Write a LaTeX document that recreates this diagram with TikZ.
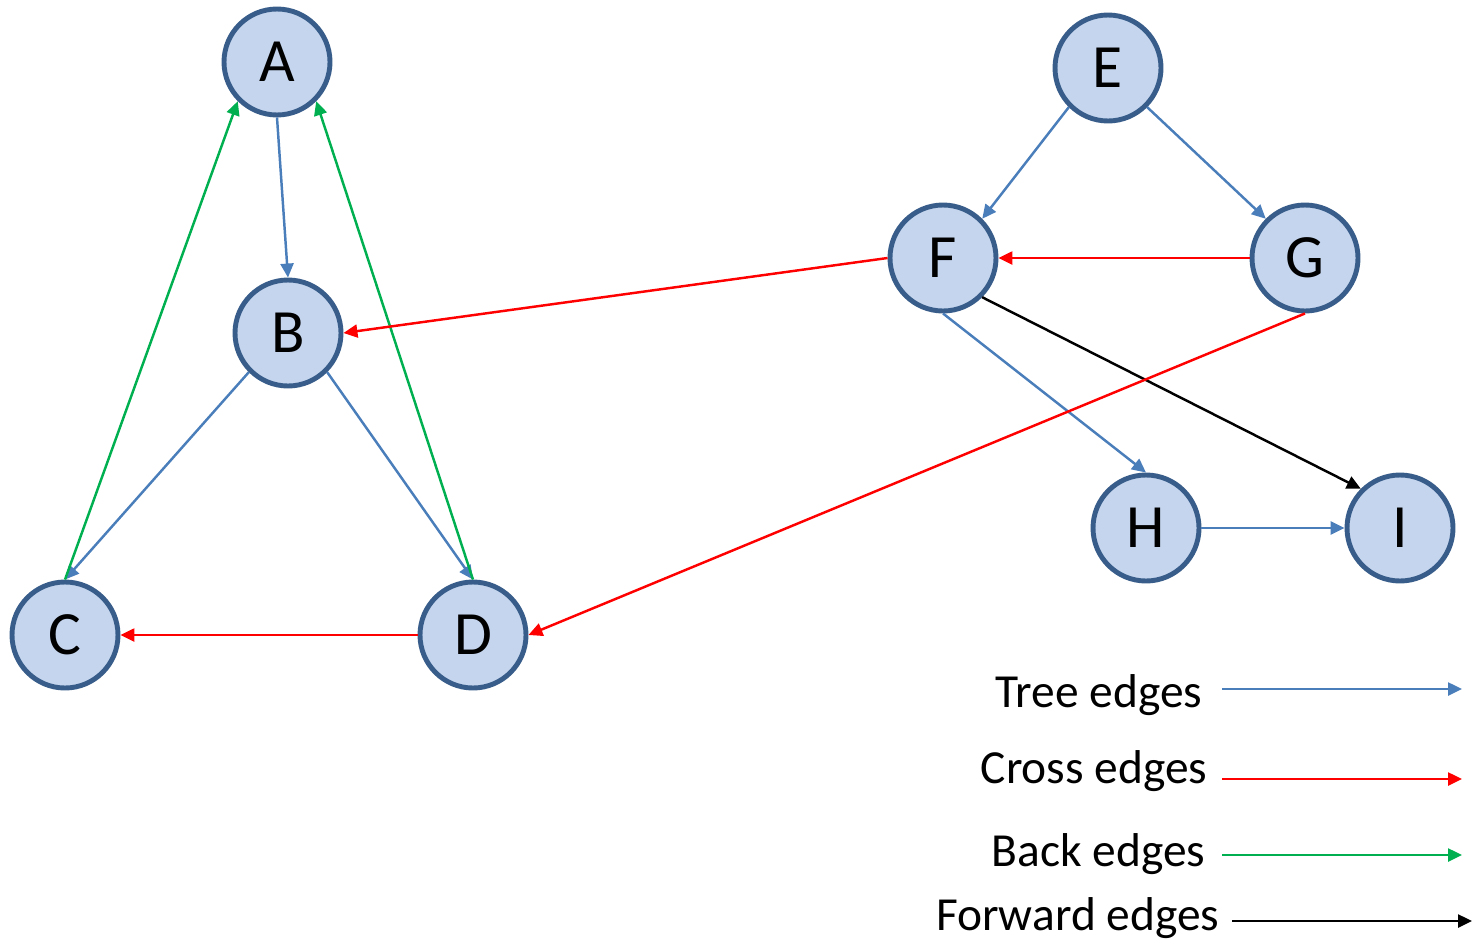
\documentclass[tikz,border=0pt]{standalone}
\usepackage{fontspec}
\setmainfont{Carlito}
\usetikzlibrary{arrows.meta, positioning}
\definecolor{nodefill}{HTML}{C5D5EE}
\definecolor{nodeline}{HTML}{385D8A}
\definecolor{treeblue}{HTML}{4A7EBB}
\definecolor{backgreen}{HTML}{00B050}
\tikzset{
  vertex/.style={circle, draw=nodeline, fill=nodefill, line width=1.4pt,
    minimum size=1.06cm, inner sep=0pt, font=\fontsize{17.5}{20}\selectfont},
  legendtext/.style={anchor=east, inner sep=0pt, font=\fontsize{13.5}{16}\selectfont},
  arrow/.style={-{Triangle[length=1.4mm, width=1.3mm]}, line width=0.7pt},
  treeedge/.style={arrow, draw=treeblue},
  crossedge/.style={arrow, draw=red},
  backedge/.style={arrow, draw=backgreen},
  fwdedge/.style={arrow, draw=black}
}

\begin{document}
\begin{tikzpicture}[x=1cm, y=1cm]
    \useasboundingbox (0,0) rectangle (14.75,-9.38);
    % left component
    \node[vertex] (A) at (2.77,-0.62) {A};
    \node[vertex] (B) at (2.88,-3.33) {B};
    \node[vertex] (C) at (0.65,-6.35) {C};
    \node[vertex] (D) at (4.73,-6.35) {D};
    % right component
    \node[vertex] (E) at (11.08,-0.68) {E};
    \node[vertex] (F) at (9.43,-2.58) {F};
    \node[vertex] (G) at (13.05,-2.58) {G};
    \node[vertex] (H) at (11.46,-5.28) {H};
    \node[vertex] (I) at (14.00,-5.28) {I};
    % edges
    \draw[treeedge] (A.south) -- (B.north);
    \draw[treeedge] (B.south west) -- (C.north);
    \draw[treeedge] (B.south east) -- (D.north);
    \draw[backedge] (C.north) -- (A.south west);
    \draw[backedge] (D.north) -- (A.south east);
    \draw[crossedge] (D.west) -- (C.east);
    \draw[treeedge] (E.south west) -- (F.north east);
    \draw[treeedge] (E.south east) -- (G.north west);
    \draw[crossedge] (G.west) -- (F.east);
    \draw[crossedge] (F.west) -- (B.east);
    \draw[treeedge] (F.south) -- (H.north);
    \draw[fwdedge] (F.south east) -- (I.north west);
    \draw[treeedge] (H.east) -- (I.west);
    \draw[crossedge] (G.south) -- (D.east);
    % legend
    \coordinate (t1) at (12.22,-6.89);
    \coordinate (t2) at (14.62,-6.89);
    \coordinate (c1) at (12.22,-7.79);
    \coordinate (c2) at (14.62,-7.79);
    \coordinate (b1) at (12.22,-8.55);
    \coordinate (b2) at (14.62,-8.55);
    \coordinate (f1) at (12.32,-9.21);
    \coordinate (f2) at (14.72,-9.21);
    \node[legendtext] (treelbl) at (12.03,-6.95) {Tree edges};
    \node[legendtext] (crosslbl) at (12.08,-7.71) {Cross edges};
    \node[legendtext] (backlbl) at (12.06,-8.54) {Back edges};
    \node[legendtext] (fwdlbl) at (12.20,-9.18) {Forward edges};
    \draw[treeedge] (t1) -- (t2);
    \draw[crossedge] (c1) -- (c2);
    \draw[backedge] (b1) -- (b2);
    \draw[fwdedge] (f1) -- (f2);
\end{tikzpicture}
\end{document}
